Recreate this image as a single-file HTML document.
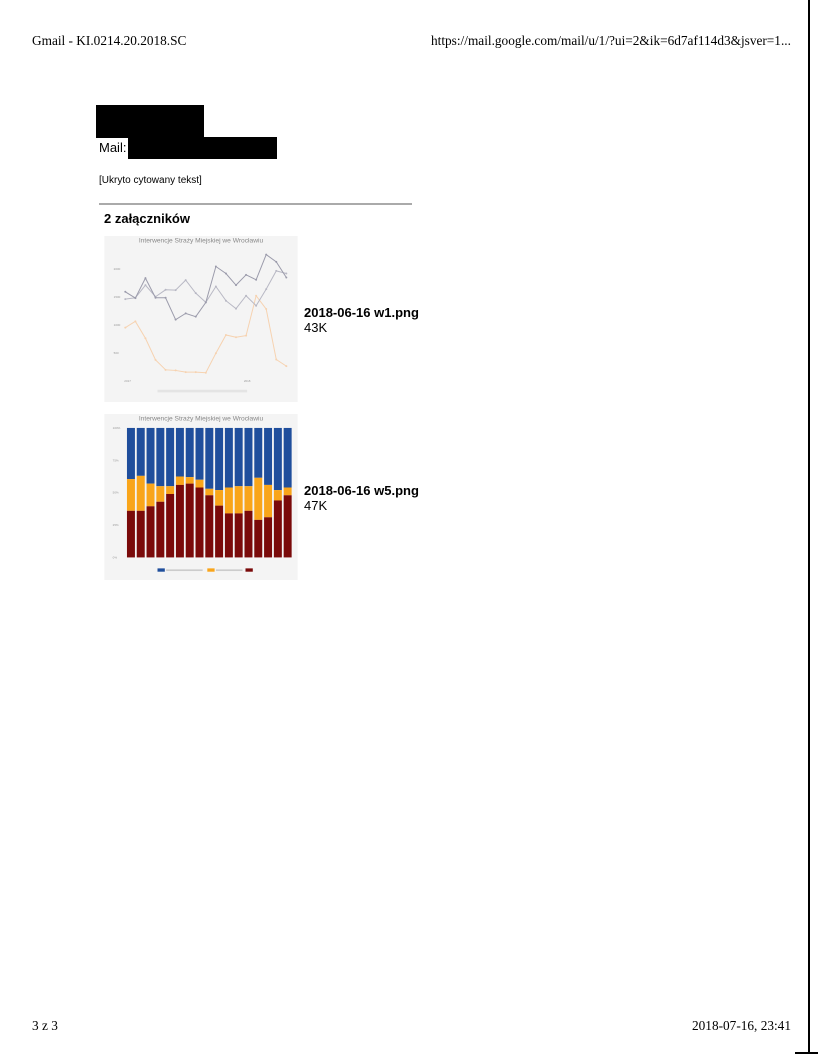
<!DOCTYPE html>
<html><head><meta charset="utf-8">
<style>
body{margin:0;width:818px;height:1058px;background:#fff;position:relative;overflow:hidden;font-family:"Liberation Sans",sans-serif;}
.abs{position:absolute;}
.serif{font-family:"Liberation Serif",serif;font-size:13.3px;color:#000;}
</style></head><body>
<div class="abs serif" style="left:32px;top:33px">Gmail - KI.0214.20.2018.SC</div>
<div class="abs serif" style="left:431px;top:33px">https://mail.google.com/mail/u/1/?ui=2&amp;ik=6d7af114d3&amp;jsver=1...</div>
<div class="abs" style="left:96px;top:105px;width:108px;height:33px;background:#000"></div>
<div class="abs" style="left:99px;top:140px;font-size:13px">Mail:</div>
<div class="abs" style="left:128px;top:137px;width:149px;height:22px;background:#000"></div>
<div class="abs" style="left:99px;top:175px;font-size:10px">[Ukryto cytowany tekst]</div>
<div class="abs" style="left:99px;top:203px;width:313px;height:2px;background:#aaa"></div>
<div class="abs" style="left:104px;top:211px;font-size:13px;font-weight:bold">2 załączników</div>

<svg class="abs" style="left:104px;top:236px" width="194" height="166" viewBox="0 0 582 500" id="c1"></svg>
<div class="abs" style="left:304px;top:305px;font-size:13px"><b>2018-06-16 w1.png</b><br>43K</div>

<svg class="abs" style="left:104px;top:414px" width="194" height="166" viewBox="0 0 582 500" id="c2"></svg>
<div class="abs" style="left:304px;top:483px;font-size:13px"><b>2018-06-16 w5.png</b><br>47K</div>

<div class="abs serif" style="left:32px;top:1018px">3 z 3</div>
<div class="abs serif" style="left:692px;top:1018px">2018-07-16, 23:41</div>
<div class="abs" style="left:808px;top:0;width:2px;height:1053px;background:#000"></div>
<div class="abs" style="left:795px;top:1052px;width:23px;height:2px;background:#000"></div>

<script>
const ns="http://www.w3.org/2000/svg";
const lineSeriesA=[1595,1482,1840,1488,1488,1095,1208,1149,1405,2048,1923,1714,1899,1810,2262,2131,1851];
const lineSeriesB=[1464,1488,1714,1506,1631,1625,1804,1571,1405,1690,1435,1292,1524,1345,1643,1970,1923];
const lineSeriesOrange=[952,1065,762,375,196,185,155,155,143,494,821,780,810,1524,1286,381,262];
const lineTicks=[500,1000,1500,2000];
const barRed=[36,36,39.5,43,49,56,57,54,48,40,34,34,36,29,31,44,48];
const barOrangeTop=[60.5,63,57,55,55,62.5,62,60,53,52,54,55,55,61.5,56,52,54];
const barTicks=["0%","25%","50%","75%","100%"];
function mk(p,t,a){const e=document.createElementNS(ns,t);for(const k in a)e.setAttribute(k,a[k]);p.appendChild(e);return e;}
const c1=document.getElementById('c1');
mk(c1,'rect',{x:0,y:0,width:582,height:500,fill:'#f4f4f4'});
let t=mk(c1,'text',{x:291,y:20,'text-anchor':'middle','font-size':20,fill:'#888'});t.textContent='Interwencje Straży Miejskiej we Wrocławiu';
const x1=i=>63+i*(548-63)/(lineSeriesA.length-1), y1=v=>436-v*84/500;
lineTicks.forEach(v=>{const e=mk(c1,'text',{x:28,y:y1(v)+3,'font-size':9,fill:'#999'});e.textContent=v;});
function line(d,col,w){mk(c1,'polyline',{points:d.map((v,i)=>x1(i)+','+y1(v)).join(' '),fill:'none',stroke:col,'stroke-width':w});d.forEach((v,i)=>mk(c1,'circle',{cx:x1(i),cy:y1(v),r:3,fill:col}));}
line(lineSeriesOrange,'#f6d2b0',3);line(lineSeriesB,'#b8b8c4',3);line(lineSeriesA,'#9b9bab',3);
t=mk(c1,'text',{x:60,y:440,'font-size':9,fill:'#999'});t.textContent='2017';
t=mk(c1,'text',{x:420,y:440,'font-size':9,fill:'#999'});t.textContent='2018';
mk(c1,'rect',{x:160,y:463,width:270,height:8,fill:'#e4e4e4'});
const c2=document.getElementById('c2');
mk(c2,'rect',{x:0,y:0,width:582,height:500,fill:'#f4f4f4'});
t=mk(c2,'text',{x:291,y:20,'text-anchor':'middle','font-size':20,fill:'#888'});t.textContent='Interwencje Straży Miejskiej we Wrocławiu';
const y2=p=>432-p*3.9, bw=24, x2=i=>68+i*(540-68)/(barRed.length-1);
barTicks.forEach((s,i)=>{const e=mk(c2,'text',{x:25,y:y2(i*25)+3,'font-size':9,fill:'#999'});e.textContent=s;});
barRed.forEach((r,i)=>{const o=barOrangeTop[i],x=x2(i);
 const b=mk(c2,'rect',{x:x,y:y2(100),width:bw,height:y2(o)-y2(100),fill:'#1f4e9c'});
 const a=mk(c2,'rect',{x:x,y:y2(o),width:bw,height:y2(r)-y2(o),fill:'#f9a51a'});
 const c=mk(c2,'rect',{x:x,y:y2(r),width:bw,height:y2(0)-y2(r),fill:'#7a0a0a'});});
mk(c2,'rect',{x:160,y:465,width:22,height:10,fill:'#1f4e9c'});
mk(c2,'rect',{x:310,y:465,width:22,height:10,fill:'#f9a51a'});
mk(c2,'rect',{x:425,y:465,width:22,height:10,fill:'#7a0a0a'});
mk(c2,'rect',{x:186,y:468,width:110,height:5,fill:'#ccc'});
mk(c2,'rect',{x:336,y:468,width:80,height:5,fill:'#ccc'});
</script>
</body></html>
